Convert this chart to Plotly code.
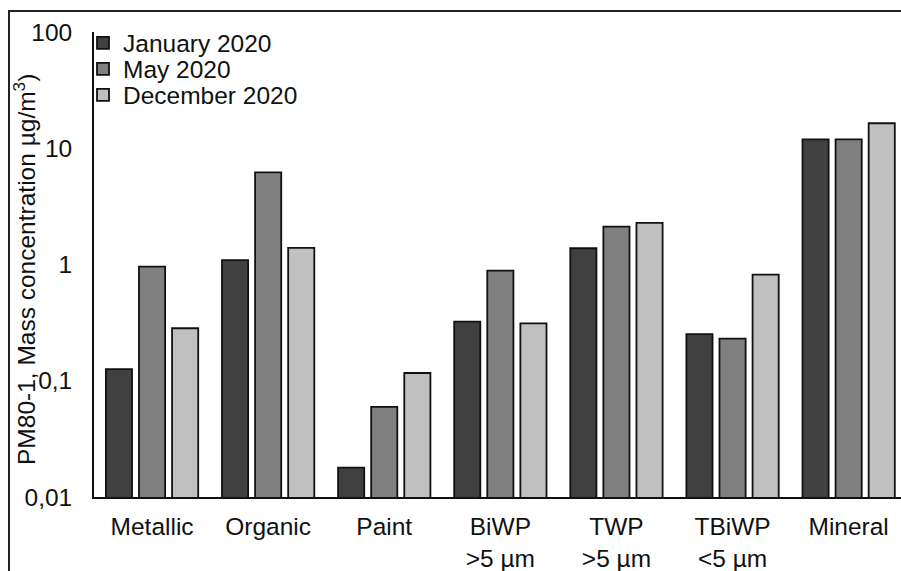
import plotly.graph_objects as go

# Particle classes (x axis) and sampling campaigns
categories = ["Metallic", "Organic", "Paint", "BiWP<br>>5 µm", "TWP<br>>5 µm", "TBiWP<br><5 µm", "Mineral"]
series_names = ["January 2020", "May 2020", "December 2020"]

# Mass concentration, µg/m³
jan_2020 = [0.126, 1.09, 0.0179, 0.322, 1.38, 0.252, 11.9]
may_2020 = [0.957, 6.2, 0.0595, 0.885, 2.12, 0.230, 11.9]
dec_2020 = [0.283, 1.39, 0.1166, 0.312, 2.28, 0.817, 16.4]

y_tickvals = [0.01, 0.1, 1, 10, 100]
y_ticktext = ["0,01", "0,1", "1", "10", "100"]
y_title = "PM80-1, Mass concentration µg/m<sup>3</sup>)"

colors = ["#404040", "#808080", "#c0c0c0"]
FONT = "Liberation Sans, Arial, sans-serif"
FS = 24.5
TXT = "#111111"

W, H = 901, 571
ML, MR, MT, MB = 94, 0, 32, 74
PW, PH = W - ML - MR, H - MT - MB

fig = go.Figure()
legend_ids = ["legend", "legend2", "legend3"]
for name, vals, col, lg in zip(series_names, [jan_2020, may_2020, dec_2020], colors, legend_ids):
    fig.add_trace(go.Bar(
        x=categories, y=vals, name=name, legend=lg, showlegend=True,
        marker=dict(color=col, line=dict(color=TXT, width=1.8)),
    ))

def legend_box(ypix):
    return dict(
        x=(83 - ML) / PW, xanchor="left",
        y=(H - MB - ypix) / PH, yanchor="middle",
        bgcolor="rgba(0,0,0,0)", borderwidth=0,
        font=dict(family=FONT, size=FS, color=TXT),
    )

fig.update_layout(
    width=W, height=H,
    margin=dict(l=ML, r=MR, t=MT, b=MB, pad=0),
    paper_bgcolor="white", plot_bgcolor="white",
    font=dict(family=FONT, size=FS, color=TXT),
    showlegend=True,
    barmode="group", bargap=0.145, bargroupgap=0.21,
    legend=legend_box(43), legend2=legend_box(69), legend3=legend_box(95),
    xaxis=dict(
        range=[-0.5, -0.5 + PW / 116.1],
        showline=True, linecolor=TXT, linewidth=1.8,
        ticks="", showgrid=False, zeroline=False,
        ticklabelstandoff=7,
        tickfont=dict(family=FONT, size=FS, color=TXT),
    ),
    yaxis=dict(
        type="log", range=[-2, 2],
        tickvals=y_tickvals, ticktext=y_ticktext,
        showline=True, linecolor=TXT, linewidth=1.8,
        ticks="", showgrid=False, zeroline=False,
        ticklabelstandoff=15,
        tickfont=dict(family=FONT, size=FS, color=TXT),
    ),
)

# y-axis title placed by hand so it can sit close to the tick labels
fig.add_annotation(
    text=y_title, textangle=-90, showarrow=False,
    xref="paper", yref="paper",
    x=(24 - ML) / PW, y=(H - MB - 270) / PH,
    xanchor="center", yanchor="middle",
    font=dict(family=FONT, size=FS, color=TXT),
)

# outer frame around the figure
fig.add_shape(
    type="rect", xref="paper", yref="paper",
    x0=(9 - ML) / PW, x1=1.2, y0=-0.5, y1=1 + (MT - 11) / PH,
    line=dict(color="#222222", width=2), fillcolor="rgba(0,0,0,0)", layer="above",
)

fig.write_html("out.html")
